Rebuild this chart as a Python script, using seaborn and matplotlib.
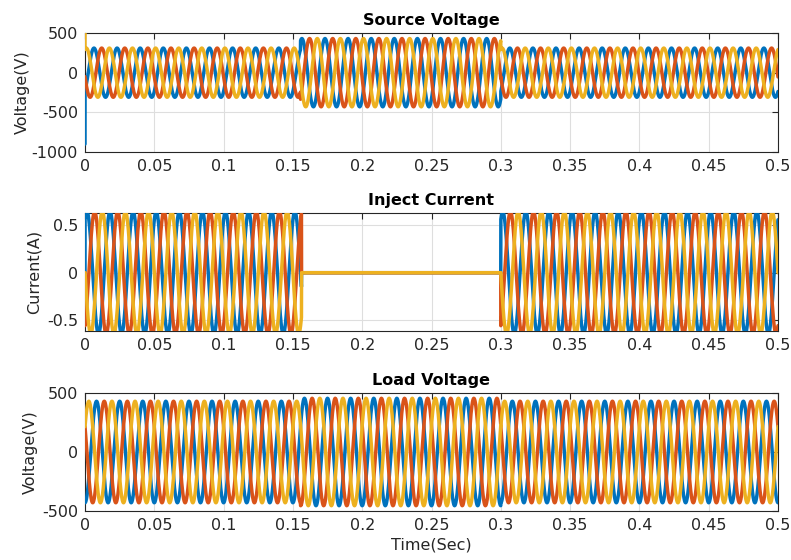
import numpy as np
import pandas as pd
import matplotlib
matplotlib.use("Agg")
import matplotlib.pyplot as plt
import seaborn as sns

# ---------------- data ----------------
phase_names = ["Phase A", "Phase B", "Phase C"]
phase_colors = ["#0072BD", "#D95319", "#EDB120"]
phase_shift_deg = [0, -120, 120]
freq_hz = 60
t_end = 0.5

# Source voltage: amplitude per segment (normal / swell / normal)
source_seg_start = [0.0, 0.1555, 0.3]
source_seg_amp = [310, 430, 310]
source_phase_deg = -50
source_t0_values = [-900, -50, 500]   # start-up transient at t = 0

# Injected current: amplitude per segment (on / off / on)
current_seg_start = [0.0, 0.1562, 0.3]
current_seg_amp = [0.645, 0.0, 0.645]
current_phase_deg = 60
current_t0_values = [0.0, 0.0, 0.0]

# Load voltage: amplitude per segment
load_seg_start = [0.0, 0.1555, 0.3]
load_seg_amp = [430, 455, 430]
load_phase_deg = -90
load_t0_values = [None, None, None]

x_ticks = [0, 0.05, 0.1, 0.15, 0.2, 0.25, 0.3, 0.35, 0.4, 0.45, 0.5]
x_tick_labels = ["0", "0.05", "0.1", "0.15", "0.2", "0.25", "0.3", "0.35", "0.4", "0.45", "0.5"]

source_yticks = [-1000, -500, 0, 500]
current_yticks = [-0.5, 0, 0.5]
load_yticks = [-500, 0, 500]

titles = ["Source Voltage", "Inject Current", "Load Voltage"]
ylabels = ["Voltage(V)", "Current(A)", "Voltage(V)"]
xlabel = "Time(Sec)"

# ---------------- build waveforms from the parameters ----------------
t = np.linspace(0, t_end, 12001)


def build(seg_start, seg_amp, phase_deg, t0_values):
    idx = np.searchsorted(np.array(seg_start), t, side="right") - 1
    amp = np.array(seg_amp, dtype=float)[idx]
    frames = []
    for name, shift, v0 in zip(phase_names, phase_shift_deg, t0_values):
        v = amp * np.sin(2 * np.pi * freq_hz * t + np.deg2rad(phase_deg + shift))
        tt = t
        if v0 is not None:
            tt = np.concatenate([[0.0], t])
            v = np.concatenate([[v0], v])
        frames.append(pd.DataFrame({"t": tt, "v": v, "phase": name}))
    return pd.concat(frames, ignore_index=True)


df_source = build(source_seg_start, source_seg_amp, source_phase_deg, source_t0_values)
df_current = build(current_seg_start, current_seg_amp, current_phase_deg, current_t0_values)
df_load = build(load_seg_start, load_seg_amp, load_phase_deg, load_t0_values)

# ---------------- plotting ----------------
sns.set_style("white")
plt.rcParams["font.family"] = ["DejaVu Sans"]
plt.rcParams["axes.unicode_minus"] = False

fig = plt.figure(figsize=(7.91, 5.6), dpi=100)
W, H = 791, 560


def add_ax(top_px, bottom_px, left_px=85, right_px=778):
    return fig.add_axes([left_px / W, 1 - bottom_px / H,
                         (right_px - left_px) / W, (bottom_px - top_px) / H])


ax1 = add_ax(33, 152)
ax2 = add_ax(213, 331)
ax3 = add_ax(393, 511)

specs = [
    (ax1, df_source, (-1000, 500), source_yticks, [str(v) for v in source_yticks], -0.079),
    (ax2, df_current, (-0.615, 0.63), current_yticks, ["-0.5", "0", "0.5"], -0.062),
    (ax3, df_load, (-500, 500), load_yticks, [str(v) for v in load_yticks], -0.068),
]

for i, (ax, df, ylim, yt, ytl, lab_x) in enumerate(specs):
    sns.lineplot(data=df, x="t", y="v", hue="phase", hue_order=phase_names,
                 palette=phase_colors, estimator=None, sort=False, units="phase",
                 linewidth=2.5, legend=False, ax=ax, zorder=3)
    ax.set_xlim(0, t_end)
    ax.set_ylim(*ylim)
    ax.set_xticks(x_ticks)
    ax.set_xticklabels(x_tick_labels)
    ax.set_yticks(yt)
    ax.set_yticklabels(ytl)
    ax.grid(True, color="#DEDEDE", linewidth=0.8)
    ax.set_axisbelow(True)
    ax.tick_params(direction="in", length=4, width=0.8, top=True, right=True,
                   labelsize=11.5, colors="#262626", pad=5)
    for s in ax.spines.values():
        s.set_visible(True)
        s.set_color("#262626")
        s.set_linewidth(0.8)
    ax.set_title(titles[i], fontsize=11.5, fontweight="bold", pad=6, color="black")
    ax.set_ylabel(ylabels[i], fontsize=11.5, color="#262626")
    ax.yaxis.set_label_coords(lab_x, 0.5)
    ax.set_xlabel("")

ax3.set_xlabel(xlabel, fontsize=11.5, color="#262626", labelpad=3)

fig.savefig("out.png", dpi=100)
